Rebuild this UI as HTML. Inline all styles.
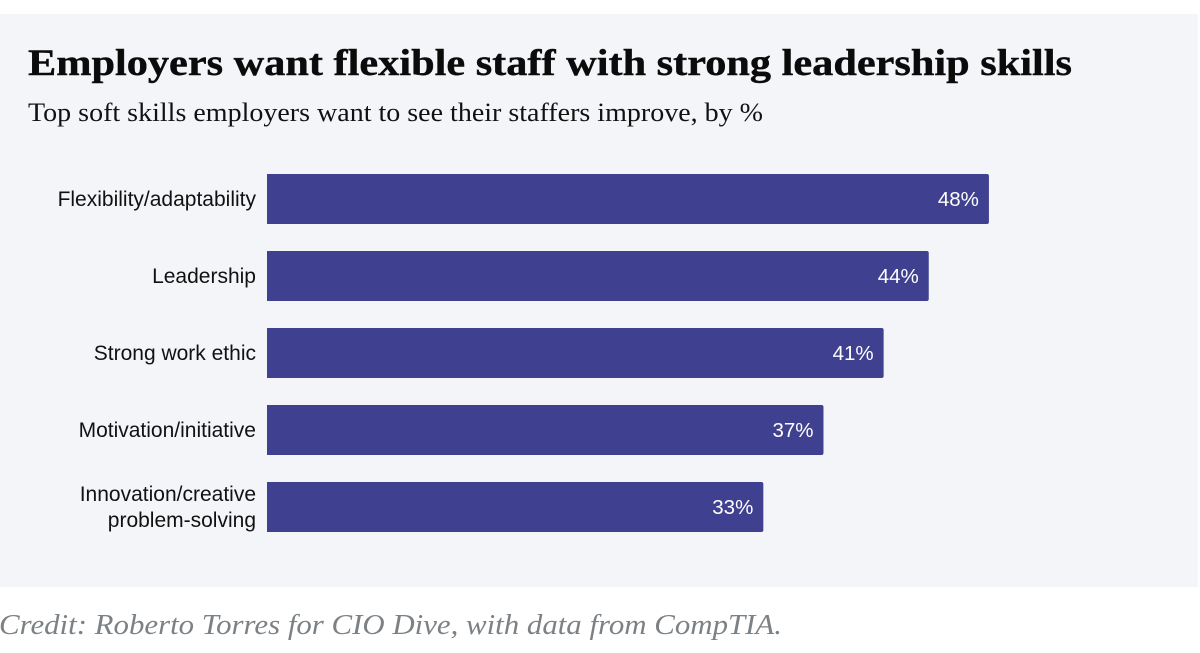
<!DOCTYPE html>
<html lang="en">
<head>
<meta charset="utf-8">
<title>Employers want flexible staff with strong leadership skills</title>
<style>
html,body{margin:0;padding:0;background:#fff;}
body{width:1200px;height:653px;overflow:hidden;}
svg{display:block;}
</style>
</head>
<body>
<svg id="chart" xmlns="http://www.w3.org/2000/svg" width="1200" height="653" viewBox="0 0 1200 653">
  <rect x="0" y="14" width="1198" height="573" fill="#f4f5f8"/>
  <text x="28" y="75" font-family="'Liberation Serif',serif" font-weight="700" font-size="37" fill="#0b0b0b" stroke="#0b0b0b" stroke-width="0.4" textLength="1044" lengthAdjust="spacingAndGlyphs">Employers want flexible staff with strong leadership skills</text>
  <text x="28" y="121" font-family="'Liberation Serif',serif" font-size="26" fill="#111" textLength="735" lengthAdjust="spacingAndGlyphs">Top soft skills employers want to see their staffers improve, by %</text>
  <g id="bars"></g>
  <text x="-1" y="634" font-family="'Liberation Serif',serif" font-style="italic" font-size="28" fill="#7b8185" textLength="783" lengthAdjust="spacingAndGlyphs">Credit: Roberto Torres for CIO Dive, with data from CompTIA.</text>
</svg>
<script>
const categories = [["Flexibility/adaptability"], ["Leadership"], ["Strong work ethic"], ["Motivation/initiative"], ["Innovation/creative", "problem-solving"]];
const values = [48, 44, 41, 37, 33];
const valueSuffix = "%";

const NS = "http://www.w3.org/2000/svg";
const bars = document.getElementById("bars");
const xZero = 267, pxPerUnit = 15.04;
const firstBarTop = 174, barStep = 77, barHeight = 50;
function xScale(v) { return xZero + v * pxPerUnit; }
function yScale(i) { return firstBarTop + i * barStep; }

categories.forEach(function (lines, i) {
  const v = values[i];
  const top = yScale(i);
  const right = xScale(v);
  const midY = top + barHeight / 2;

  const bar = document.createElementNS(NS, "path");
  bar.setAttribute("d", "M" + xZero + " " + top + "H" + (right - 2) + "Q" + right + " " + top + " " + right + " " + (top + 2) + "V" + (top + barHeight - 2) + "Q" + right + " " + (top + barHeight) + " " + (right - 2) + " " + (top + barHeight) + "H" + xZero + "Z");
  bar.setAttribute("fill", "#404090");
  
  
  bars.appendChild(bar);

  const label = document.createElementNS(NS, "text");
  label.setAttribute("text-anchor", "end");
  label.setAttribute("font-family", "'Liberation Sans',Arial,sans-serif");
  label.setAttribute("font-size", "21");
  label.setAttribute("fill", "#111");
  
  
  lines.forEach(function (line, k) {
    const span = document.createElementNS(NS, "tspan");
    span.setAttribute("x", 256);
    span.setAttribute("y", midY + 7 + (k - (lines.length - 1) / 2) * 26);
    span.textContent = line;
    label.appendChild(span);
  });
  bars.appendChild(label);

  const valueLabel = document.createElementNS(NS, "text");
  valueLabel.setAttribute("x", right - 10);
  valueLabel.setAttribute("y", midY + 7);
  valueLabel.setAttribute("text-anchor", "end");
  valueLabel.setAttribute("font-family", "'Liberation Sans',Arial,sans-serif");
  valueLabel.setAttribute("font-size", "20.5");
  valueLabel.setAttribute("fill", "#ffffff");
  
  
  valueLabel.textContent = v + valueSuffix;
  bars.appendChild(valueLabel);
});
</script>
</body>
</html>
